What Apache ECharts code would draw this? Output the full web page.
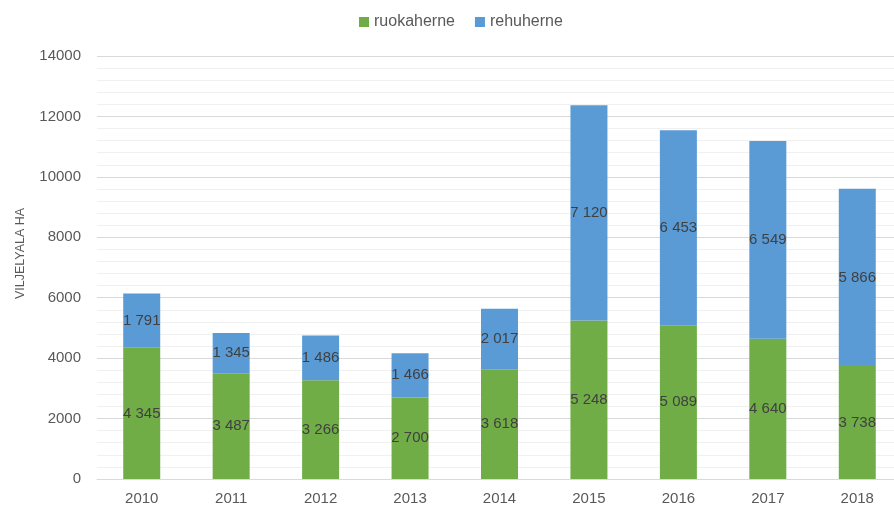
<!DOCTYPE html>
<html>
<head>
<meta charset="utf-8">
<script src="https://cdn.jsdelivr.net/npm/echarts@6/dist/echarts.min.js"></script>
<style>
html, body { margin: 0; padding: 0; background: #ffffff; }
#chart { width: 894px; height: 511px; }
</style>
</head>
<body>
<div id="chart"></div>
<script>
// Pea cultivation area by year (hectares)
const years = ['2010', '2011', '2012', '2013', '2014', '2015', '2016', '2017', '2018'];
const ruokaherne = [4345, 3487, 3266, 2700, 3618, 5248, 5089, 4640, 3738];
const rehuherne = [1791, 1345, 1486, 1466, 2017, 7120, 6453, 6549, 5866];
const yTicks = { min: 0, max: 14000, interval: 2000 };

const FONT = '"Liberation Sans", Arial, sans-serif';
const fmt = v => String(v).replace(/\B(?=(\d{3})+(?!\d))/g, ' ');

const labelStyle = {
  show: true,
  position: 'inside',
  color: '#404040',
  fontFamily: FONT,
  fontSize: 15,
  formatter: p => fmt(p.value)
};

const chart = echarts.init(document.getElementById('chart'), null, { renderer: 'canvas' });
chart.setOption({
  animation: false,
  textStyle: { fontFamily: FONT },
  legend: {
    top: 9,
    left: 354,
    itemWidth: 10,
    itemHeight: 10,
    itemGap: 20,
    icon: 'rect',
    textStyle: { color: '#595959', fontSize: 16, fontFamily: FONT },
    data: ['ruokaherne', 'rehuherne']
  },
  // plot area runs slightly past the right edge of the canvas
  grid: { left: 97, width: 805, top: 56, bottom: 32, containLabel: false, outerBoundsMode: 'none' },
  xAxis: {
    type: 'category',
    data: years,
    axisLine: { lineStyle: { color: '#d9d9d9' } },
    axisTick: { show: false },
    axisLabel: { color: '#595959', fontSize: 15, fontFamily: FONT, margin: 12 }
  },
  yAxis: {
    type: 'value',
    min: yTicks.min,
    max: yTicks.max,
    interval: yTicks.interval,
    name: 'VILJELYALA HA',
    nameLocation: 'middle',
    nameGap: 70,
    nameRotate: 90,
    nameTextStyle: { color: '#595959', fontSize: 12.5, fontFamily: FONT, padding: [0, 0, 0, 28] },
    axisLine: { show: false },
    axisTick: { show: false },
    axisLabel: { color: '#595959', fontSize: 15, fontFamily: FONT, margin: 16, formatter: v => String(v) },
    splitLine: { lineStyle: { color: '#d9d9d9' } },
    minorTick: { show: false, splitNumber: 5 },
    minorSplitLine: { show: true, lineStyle: { color: '#f0f0f0' } }
  },
  series: [
    {
      name: 'ruokaherne',
      type: 'bar',
      stack: 'total',
      barWidth: 37,
      itemStyle: { color: '#70ad47' },
      label: labelStyle,
      data: ruokaherne
    },
    {
      name: 'rehuherne',
      type: 'bar',
      stack: 'total',
      barWidth: 37,
      itemStyle: { color: '#5b9bd5' },
      label: labelStyle,
      data: rehuherne
    }
  ]
});
</script>
</body>
</html>
